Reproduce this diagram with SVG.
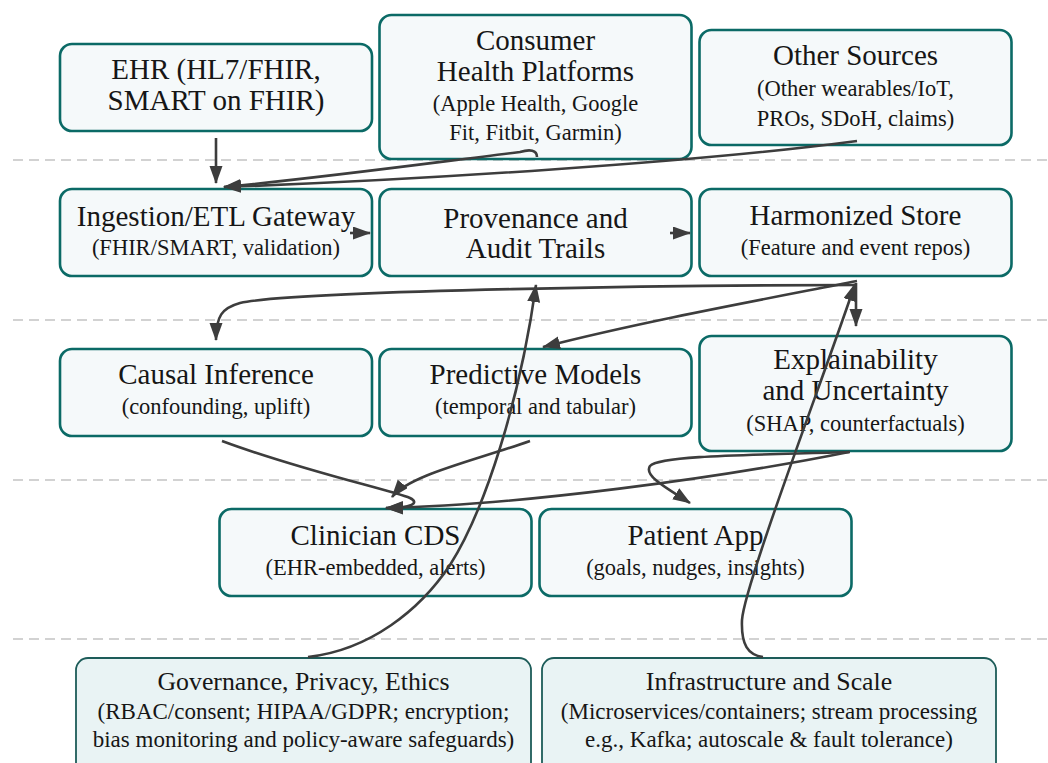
<svg xmlns="http://www.w3.org/2000/svg" width="1048" height="763" viewBox="0 0 1048 763">
  <style>
    .box { fill: #f5f9fa; stroke: #0b6a66; stroke-width: 2.6; }
    .base { fill: #e9f3f4; stroke: #1d5c59; stroke-width: 1.8; }
    .t { font-family: "Liberation Serif", "DejaVu Serif", serif; fill: #161616; text-anchor: middle; }
    .ti { font-size: 29px; }
    .su { font-size: 22.5px; }
    .bt { font-size: 25.8px; }
    .bs { font-size: 23px; }
    .lane { stroke: #c4c4c4; stroke-width: 1.3; stroke-dasharray: 10 6; fill: none; }
    .edge { fill: none; stroke: #3d3d3d; stroke-width: 2.6; marker-end: url(#arr); }
  </style>
  <defs>
    <marker id="arr" markerUnits="userSpaceOnUse" markerWidth="19" markerHeight="14" refX="17" refY="6.5" orient="auto">
      <path d="M0,0 L18,6.5 L0,13 Z" fill="#3d3d3d"/>
    </marker>
  </defs>
  <rect width="1048" height="763" fill="#ffffff"/>

  <!-- lane separators -->
  <g id="lanes">
    <line class="lane" x1="13" y1="160" x2="1048" y2="160"/>
    <line class="lane" x1="13" y1="320" x2="1048" y2="320"/>
    <line class="lane" x1="13" y1="480" x2="1048" y2="480"/>
    <line class="lane" x1="13" y1="639" x2="1048" y2="639"/>
  </g>

  <!-- sources -->
  <g id="ehr">
    <rect class="box" x="60" y="44" width="312" height="87" rx="12"/>
    <text class="t ti" x="216" y="79">EHR (HL7/FHIR,</text>
    <text class="t ti" x="216" y="110">SMART on FHIR)</text>
  </g>
  <g id="consumer">
    <rect class="box" x="379.5" y="15" width="312" height="144" rx="12"/>
    <text class="t ti" x="535.5" y="50">Consumer</text>
    <text class="t ti" x="535.5" y="81">Health Platforms</text>
    <text class="t su" x="535.5" y="111">(Apple Health, Google</text>
    <text class="t su" x="535.5" y="140">Fit, Fitbit, Garmin)</text>
  </g>
  <g id="other">
    <rect class="box" x="699.5" y="30" width="312" height="115" rx="12"/>
    <text class="t ti" x="855.5" y="65">Other Sources</text>
    <text class="t su" x="855.5" y="96">(Other wearables/IoT,</text>
    <text class="t su" x="855.5" y="126">PROs, SDoH, claims)</text>
  </g>

  <!-- data layer -->
  <g id="ingestion">
    <rect class="box" x="60" y="189" width="312" height="87" rx="12"/>
    <text class="t ti" x="216" y="226">Ingestion/ETL Gateway</text>
    <text class="t su" x="216" y="255">(FHIR/SMART, validation)</text>
  </g>
  <g id="provenance">
    <rect class="box" x="379.5" y="189" width="312" height="87" rx="12"/>
    <text class="t ti" x="535.5" y="228">Provenance and</text>
    <text class="t ti" x="535.5" y="258">Audit Trails</text>
  </g>
  <g id="harmonized">
    <rect class="box" x="699.5" y="189" width="312" height="87" rx="12"/>
    <text class="t ti" x="855.5" y="225">Harmonized Store</text>
    <text class="t su" x="855.5" y="255">(Feature and event repos)</text>
  </g>

  <!-- analytics -->
  <g id="causal">
    <rect class="box" x="60" y="349" width="312" height="87" rx="12"/>
    <text class="t ti" x="216" y="384">Causal Inference</text>
    <text class="t su" x="216" y="414">(confounding, uplift)</text>
  </g>
  <g id="predictive">
    <rect class="box" x="379.5" y="349" width="312" height="87" rx="12"/>
    <text class="t ti" x="535.5" y="384">Predictive Models</text>
    <text class="t su" x="535.5" y="414">(temporal and tabular)</text>
  </g>
  <g id="explain">
    <rect class="box" x="699.5" y="336" width="312" height="115" rx="12"/>
    <text class="t ti" x="855.5" y="369">Explainability</text>
    <text class="t ti" x="855.5" y="400">and Uncertainty</text>
    <text class="t su" x="855.5" y="431">(SHAP, counterfactuals)</text>
  </g>

  <!-- delivery -->
  <g id="cds">
    <rect class="box" x="219.5" y="509" width="312" height="87" rx="12"/>
    <text class="t ti" x="375.5" y="545">Clinician CDS</text>
    <text class="t su" x="375.5" y="575">(EHR-embedded, alerts)</text>
  </g>
  <g id="patient">
    <rect class="box" x="539.5" y="509" width="312" height="87" rx="12"/>
    <text class="t ti" x="695.5" y="545">Patient App</text>
    <text class="t su" x="695.5" y="575">(goals, nudges, insights)</text>
  </g>

  <!-- cross-cutting foundations -->
  <g id="governance">
    <rect class="base" x="76" y="658" width="455" height="125" rx="12"/>
    <text class="t bt" x="303.5" y="690">Governance, Privacy, Ethics</text>
    <text class="t bs" x="303.5" y="719">(RBAC/consent; HIPAA/GDPR; encryption;</text>
    <text class="t bs" x="303.5" y="747">bias monitoring and policy-aware safeguards)</text>
  </g>
  <g id="infra">
    <rect class="base" x="542" y="658" width="454" height="125" rx="12"/>
    <text class="t bt" x="769" y="690">Infrastructure and Scale</text>
    <text class="t bs" x="769" y="719">(Microservices/containers; stream processing</text>
    <text class="t bs" x="769" y="747">e.g., Kafka; autoscale &amp; fault tolerance)</text>
  </g>

  <!-- connectors -->
  <g id="edges">
    <path class="edge" d="M216,138 L216,183"/>
    <path class="edge" d="M537,157 C537,150 530,149 520,152 C430,163 320,178 224,187"/>
    <path class="edge" d="M857,141 C700,162 420,180 224,187"/>
    <path class="edge" d="M350,233 L370,233"/>
    <path class="edge" d="M670,233 L690,233"/>
    <path class="edge" d="M857,285 C700,285 300,290 240,303 C222,308 216,316 216,340"/>
    <path class="edge" d="M857,281 C760,300 640,322 543,347"/>
    <path class="edge" d="M856,283 L856,326"/>
    <path class="edge" d="M222,441 C300,470 390,490 410,498 C420,503 412,508 386,508"/>
    <path class="edge" d="M530,441 C470,462 410,475 392,497"/>
    <path class="edge" d="M849,452 C720,478 520,505 386,508"/>
    <path class="edge" d="M850,452 C760,455 660,455 650,466 C643,476 670,490 690,503"/>
    <path class="edge" d="M308,657 C370,650 420,610 450,565 C485,510 520,400 536,285"/>
    <path class="edge" d="M763,657 C748,655 741,645 742,620 C744,585 830,360 855,284"/>
  </g>
</svg>
